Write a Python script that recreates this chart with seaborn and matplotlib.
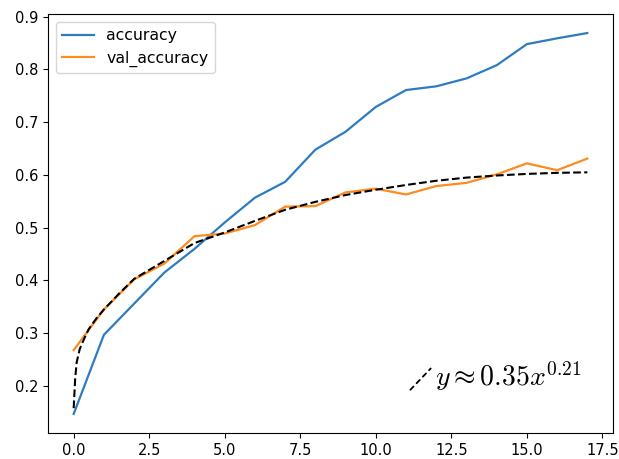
import numpy as np
import pandas as pd
import matplotlib
matplotlib.use("Agg")
import matplotlib.pyplot as plt
import seaborn as sns

epochs = list(range(18))
accuracy = [0.147, 0.297, 0.356, 0.415, 0.460, 0.510, 0.557, 0.587, 0.648, 0.682,
            0.729, 0.761, 0.768, 0.783, 0.808, 0.848, 0.859, 0.869]
val_accuracy = [0.268, 0.345, 0.402, 0.432, 0.484, 0.489, 0.505, 0.540, 0.541, 0.567,
                0.574, 0.563, 0.579, 0.585, 0.601, 0.622, 0.609, 0.631]
fit_x = [0.0, 0.05, 0.1, 0.2, 0.35, 0.5, 0.75, 1.0, 1.5, 2.0, 2.5, 3.0, 4.0, 5.0, 6.0,
         7.0, 8.0, 9.0, 10.0, 11.0, 12.0, 13.0, 14.0, 15.0, 16.0, 17.0]
fit_y = [0.158, 0.215, 0.245, 0.27, 0.29, 0.308, 0.328, 0.345, 0.375, 0.403, 0.42, 0.437,
         0.471, 0.491, 0.513, 0.534, 0.549, 0.562, 0.572, 0.581, 0.589, 0.595, 0.599,
         0.602, 0.604, 0.605]
fit_label = r"$y \approx 0.35x^{0.21}$"

plt.rcParams["mathtext.fontset"] = "cm"
fig = plt.figure(figsize=(6.19, 4.59), dpi=100)
ax = fig.add_axes([48/619, 1-433/459, (613-48)/619, (433-14)/459])

df = pd.DataFrame({"epoch": epochs, "accuracy": accuracy, "val_accuracy": val_accuracy})
sns.lineplot(data=df, x="epoch", y="accuracy", ax=ax, color="#2f7bbf", lw=1.6, label="accuracy")
sns.lineplot(data=df, x="epoch", y="val_accuracy", ax=ax, color="#ff8a1f", lw=1.6, label="val_accuracy")
fdf = pd.DataFrame({"x": fit_x, "y": fit_y})
sns.lineplot(data=fdf, x="x", y="y", ax=ax, color="black", lw=1.5, linestyle="--", legend=False)

ax.set_xlabel("")
ax.set_ylabel("")
ax.tick_params(labelsize=10.5)
ax.legend(loc="upper left", fontsize=11.3)

ax.annotate("", xy=(11.88, 0.237), xytext=(11.08, 0.189),
            arrowprops=dict(arrowstyle="-", linestyle=(0, (2.5, 2.5)), color="black", lw=1.3))
ax.text(11.95, 0.2, fit_label, fontsize=20, ha="left", va="baseline")

fig.savefig("out.png", dpi=100)
